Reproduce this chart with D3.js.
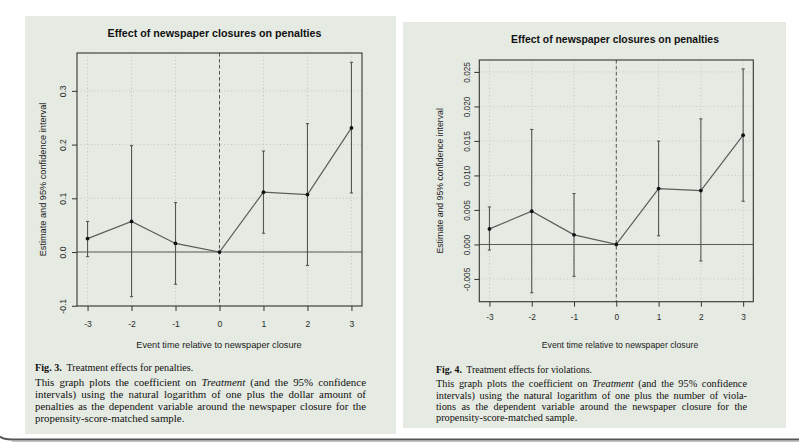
<!DOCTYPE html>
<html><head><meta charset="utf-8">
<script src="https://cdn.jsdelivr.net/npm/d3@7"></script>
<style>body{margin:0;background:#fff}svg{display:block}</style>
</head><body>
<svg id="c" width="799" height="445"></svg>
<script>
// ---------- data ----------
const eventTimes = [-3, -2, -1, 0, 1, 2, 3];
const xTickLabels = ["-3", "-2", "-1", "0", "1", "2", "3"];

const penaltiesEstimate = [0.025, 0.057, 0.016, 0, 0.1115, 0.107, 0.231];
const penaltiesLower    = [-0.0086, -0.083, -0.060, 0, 0.035, -0.025, 0.110];
const penaltiesUpper    = [0.057, 0.198, 0.092, 0, 0.188, 0.239, 0.353];
const penaltiesTicks      = [-0.1, 0, 0.1, 0.2, 0.3];
const penaltiesTickLabels = ["-0.1", "0.0", "0.1", "0.2", "0.3"];

const violationsEstimate = [0.00225, 0.00481, 0.00139, 0, 0.0081, 0.0078, 0.01584];
const violationsLower    = [-0.00082, -0.0070, -0.00462, 0, 0.00125, -0.0024, 0.00626];
const violationsUpper    = [0.00543, 0.01666, 0.00737, 0, 0.01497, 0.0182, 0.02543];
const violationsTicks      = [-0.005, 0, 0.005, 0.01, 0.015, 0.02, 0.025];
const violationsTickLabels = ["-0.005", "0.000", "0.005", "0.010", "0.015", "0.020", "0.025"];

const chartTitle = "Effect of newspaper closures on penalties";
const xAxisTitle = "Event time relative to newspaper closure";
const yAxisTitle = "Estimate and 95% confidence interval";

const captionPenalties = [
  "**Fig.** **3.** Treatment effects for penalties.",
  "This graph plots the coefficient on *Treatment* (and the 95% confidence",
  "intervals) using the natural logarithm of one plus the dollar amount of",
  "penalties as the dependent variable around the newspaper closure for the",
  "propensity-score-matched sample."
];
const captionViolations = [
  "**Fig.** **4.** Treatment effects for violations.",
  "This graph plots the coefficient on *Treatment* (and the 95% confidence",
  "intervals) using the natural logarithm of one plus the number of viola-",
  "tions as the dependent variable around the newspaper closure for the",
  "propensity-score-matched sample."
];

// ---------- drawing ----------
const svg = d3.select("#c");
const SANS = "'Liberation Sans', Arial, Helvetica, sans-serif";
const SERIF = "'Liberation Serif', 'Times New Roman', serif";
const BG = "#e5eae2";

function measure(text, size, weight, style) {
  const t = svg.append("text").attr("font-family", SERIF).attr("font-size", size)
    .attr("font-weight", weight).attr("font-style", style).text(text);
  const w = t.node().getComputedTextLength();
  t.remove();
  return w;
}

function captionLine(g, x, y, width, line, size, justify) {
  const words = line.split(" ").map(w => {
    if (w.startsWith("**")) return {t: w.slice(2, -2), b: "bold", i: "normal"};
    if (w.startsWith("*")) return {t: w.slice(1, -1), b: "normal", i: "italic"};
    return {t: w, b: "normal", i: "normal"};
  });
  words.forEach(w => w.w = measure(w.t, size, w.b, w.i));
  const sum = d3.sum(words, w => w.w);
  const space = measure("a a", size, "normal", "normal") - measure("aa", size, "normal", "normal");
  let gap = justify ? Math.max(space * 0.7, (width - sum) / (words.length - 1)) : space;
  const text = g.append("text").attr("y", y).attr("font-family", SERIF)
    .attr("font-size", size).attr("fill", "#111");
  let cx = x;
  words.forEach((w, i) => {
    text.append("tspan").attr("x", cx).attr("font-weight", w.b).attr("font-style", w.i).text(w.t);
    let g2 = gap;
    if (!justify && w.b === "bold" && i + 1 < words.length && words[i + 1].b !== "bold") g2 = space * 1.8;
    cx += w.w + g2;
  });
}

function drawPanel(cfg) {
  const g = svg.append("g");
  g.append("rect").attr("x", cfg.bg[0]).attr("y", cfg.bg[1]).attr("width", cfg.bg[2])
    .attr("height", cfg.bg[3]).attr("fill", BG);

  const {x0, x1, y0, y1} = cfg.box;
  const xr = d3.extent(eventTimes), xp = (xr[1] - xr[0]) * 0.04;
  const x = d3.scaleLinear().domain([xr[0] - xp, xr[1] + xp]).range([x0, x1]);
  const yr = [d3.min(cfg.lower), d3.max(cfg.upper)], yp = (yr[1] - yr[0]) * 0.04;
  const y = d3.scaleLinear().domain([yr[0] - yp, yr[1] + yp]).range([y1, y0]);

  // grid
  g.append("g").selectAll("line.gx").data(eventTimes).join("line")
    .attr("x1", d => x(d)).attr("x2", d => x(d)).attr("y1", y0).attr("y2", y1)
    .attr("stroke", "#c4c6c2").attr("stroke-width", 1).attr("stroke-dasharray", "1,2.5");
  g.append("g").selectAll("line.gy").data(cfg.ticks).join("line")
    .attr("x1", x0).attr("x2", x1).attr("y1", d => y(d)).attr("y2", d => y(d))
    .attr("stroke", "#c4c6c2").attr("stroke-width", 1).attr("stroke-dasharray", "1,2.5");

  // zero line and event line
  g.append("line").attr("x1", x0).attr("x2", x1).attr("y1", y(0)).attr("y2", y(0))
    .attr("stroke", "#5a5a5a").attr("stroke-width", 1.1);
  g.append("line").attr("x1", x(0)).attr("x2", x(0)).attr("y1", y0).attr("y2", y1)
    .attr("stroke", "#555").attr("stroke-width", 1).attr("stroke-dasharray", "3.5,2.5");

  // error bars
  const idx = eventTimes.map((d, i) => i).filter(i => cfg.upper[i] !== cfg.lower[i]);
  const eb = g.append("g").attr("stroke", "#555").attr("stroke-width", 1.1);
  eb.selectAll("line.v").data(idx).join("line")
    .attr("x1", i => x(eventTimes[i])).attr("x2", i => x(eventTimes[i]))
    .attr("y1", i => y(cfg.lower[i])).attr("y2", i => y(cfg.upper[i]));
  eb.selectAll("line.ct").data(idx).join("line")
    .attr("x1", i => x(eventTimes[i]) - 1.6).attr("x2", i => x(eventTimes[i]) + 1.6)
    .attr("y1", i => y(cfg.upper[i])).attr("y2", i => y(cfg.upper[i]));
  eb.selectAll("line.cb").data(idx).join("line")
    .attr("x1", i => x(eventTimes[i]) - 1.6).attr("x2", i => x(eventTimes[i]) + 1.6)
    .attr("y1", i => y(cfg.lower[i])).attr("y2", i => y(cfg.lower[i]));

  // line + points
  const line = d3.line().x((d, i) => x(eventTimes[i])).y(d => y(d));
  g.append("path").datum(cfg.est).attr("d", line).attr("fill", "none")
    .attr("stroke", "#5c5c5c").attr("stroke-width", 1.2);
  g.append("g").selectAll("circle").data(cfg.est).join("circle")
    .attr("cx", (d, i) => x(eventTimes[i])).attr("cy", d => y(d)).attr("r", 1.9).attr("fill", "#111");

  // box
  g.append("rect").attr("x", x0).attr("y", y0).attr("width", x1 - x0).attr("height", y1 - y0)
    .attr("fill", "none").attr("stroke", "#333").attr("stroke-width", 1.1);

  // axes
  const ax = g.append("g").attr("transform", `translate(0,${y1})`)
    .call(d3.axisBottom(x).tickValues(eventTimes).tickFormat((d, i) => xTickLabels[i]).tickSize(5));
  ax.select(".domain").remove();
  ax.selectAll("line").attr("stroke", "#333");
  ax.selectAll("text").attr("y", cfg.xLabOff).attr("dy", "0.35em")
    .attr("font-family", SANS).attr("font-size", cfg.tickSize).attr("fill", "#2a2a2a");

  const ay = g.append("g").attr("transform", `translate(${x0},0)`)
    .call(d3.axisLeft(y).tickValues(cfg.ticks).tickFormat((d, i) => cfg.tickLabels[i]).tickSize(5));
  ay.select(".domain").remove();
  ay.selectAll("line").attr("stroke", "#333");
  ay.selectAll("text").attr("x", 0).attr("y", 0).attr("dy", "0.35em").attr("text-anchor", "middle")
    .attr("transform", `translate(${-cfg.yLabOff},0) rotate(-90)`)
    .attr("font-family", SANS).attr("font-size", cfg.tickSize).attr("fill", "#2a2a2a");

  // titles
  g.append("text").attr("x", cfg.title[0]).attr("y", cfg.title[1]).attr("text-anchor", "middle")
    .attr("font-family", SANS).attr("font-weight", "bold").attr("font-size", cfg.title[2])
    .attr("fill", "#111").text(chartTitle);
  g.append("text").attr("x", cfg.xTitle[0]).attr("y", cfg.xTitle[1]).attr("text-anchor", "middle")
    .attr("font-family", SANS).attr("font-size", cfg.xTitle[2]).attr("fill", "#222").text(xAxisTitle);
  g.append("text").attr("transform", `translate(${cfg.yTitleX},${(y0 + y1) / 2}) rotate(-90)`)
    .attr("dy", "0.35em").attr("text-anchor", "middle")
    .attr("font-family", SANS).attr("font-size", cfg.xTitle[2]).attr("fill", "#222").text(yAxisTitle);

  // caption
  cfg.caption.forEach((ln, i) => {
    captionLine(g, cfg.capX, cfg.capY[i], cfg.capW, ln, i === 0 ? cfg.capHeadSize : cfg.capSize,
      i > 0 && i < cfg.caption.length - 1);
  });
}

drawPanel({
  bg: [25, 16, 371, 418],
  box: {x0: 77, x1: 362, y0: 53, y1: 306},
  est: penaltiesEstimate, lower: penaltiesLower, upper: penaltiesUpper,
  ticks: penaltiesTicks, tickLabels: penaltiesTickLabels,
  tickSize: 8.6, xLabOff: 18, yLabOff: 14,
  title: [214.5, 37, 10.7], xTitle: [219, 347.5, 9.2], yTitleX: 43,
  caption: captionPenalties, capX: 35, capW: 331, capSize: 10.9, capHeadSize: 10.2,
  capY: [370.5, 385.5, 397.5, 409.5, 421.5]
});

drawPanel({
  bg: [403, 22, 383, 406],
  box: {x0: 479.3, x1: 753.3, y0: 60, y1: 301.7},
  est: violationsEstimate, lower: violationsLower, upper: violationsUpper,
  ticks: violationsTicks, tickLabels: violationsTickLabels,
  tickSize: 8.3, xLabOff: 15.5, yLabOff: 12.6,
  title: [615, 42.7, 10.4], xTitle: [620, 348, 8.7], yTitleX: 440,
  caption: captionViolations, capX: 436, capW: 311, capSize: 10.3, capHeadSize: 9.8,
  capY: [372.5, 386.5, 398.5, 409.5, 420.5]
});

// page bottom rule
svg.append("path").attr("d", "M0,436.5 Q3,439.5 12,439.5 L799,439.5")
  .attr("fill", "none").attr("stroke", "#555").attr("stroke-width", 2);
svg.append("line").attr("x1", 12).attr("x2", 799).attr("y1", 441.2).attr("y2", 441.2)
  .attr("stroke", "#aaa").attr("stroke-width", 1);
</script>
</body></html>
